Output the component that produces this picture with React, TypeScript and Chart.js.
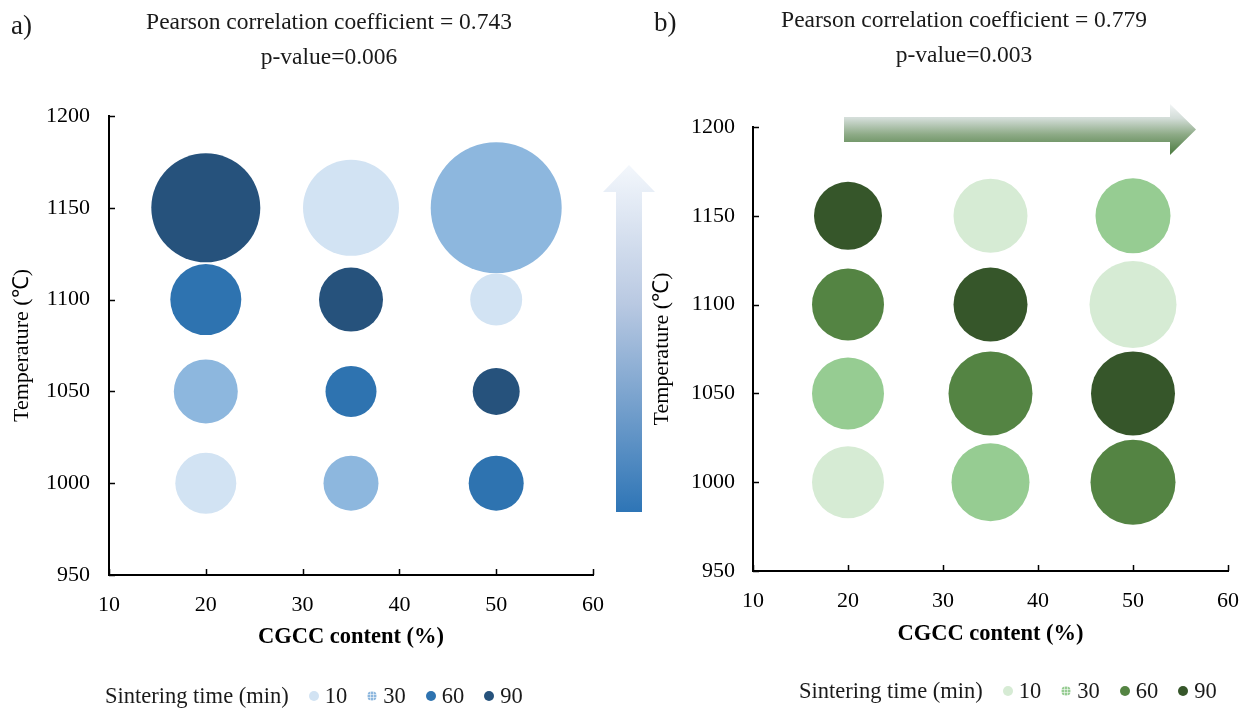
import React, { useEffect, useRef } from 'react';
import { Chart, registerables } from 'chart.js';

Chart.register(...registerables);

// ---- data ----
const cgccContent = [20, 35, 50, 20, 35, 50, 20, 35, 50, 20, 35, 50];
const temperature = [1150, 1150, 1150, 1100, 1100, 1100, 1050, 1050, 1050, 1000, 1000, 1000];
const sinteringTime = [90, 10, 30, 60, 90, 10, 30, 60, 90, 10, 30, 60];
const bubbleSizeA = [54.5, 48, 65.5, 35.5, 32, 26, 32, 25.5, 23.5, 30.5, 27.5, 27.5];
const bubbleSizeB = [34, 37, 37.5, 36, 37, 43.5, 36, 42, 42, 36, 39, 42.5];
const timeGroups = [10, 30, 60, 90];
const xTickValues = [10, 20, 30, 40, 50, 60];
const yTickValues = [950, 1000, 1050, 1100, 1150, 1200];
const pearsonA = ['Pearson correlation coefficient = 0.743', 'p-value=0.006'];
const pearsonB = ['Pearson correlation coefficient = 0.779', 'p-value=0.003'];

const bluePalette = ['#d2e3f3', '#8db7de', '#2e73b0', '#26527c'];
const greenPalette = ['#d6ebd4', '#96cc92', '#548443', '#36562a'];

const FONT = '"Liberation Serif", "Times New Roman", serif';
const SIZE_SCALE = 1;

const inwardTicks = {
  id: 'inwardTicks',
  afterDraw(chart: any) {
    const { ctx, chartArea, scales } = chart;
    ctx.save();
    ctx.strokeStyle = '#000';
    ctx.lineWidth = 1.5;
    xTickValues.forEach((v) => {
      const px = Math.round(scales.x.getPixelForValue(v)) + 0.5;
      ctx.beginPath();
      ctx.moveTo(px, chartArea.bottom);
      ctx.lineTo(px, chartArea.bottom - 6);
      ctx.stroke();
    });
    yTickValues.forEach((v) => {
      const py = Math.round(scales.y.getPixelForValue(v)) + 0.5;
      ctx.beginPath();
      ctx.moveTo(chartArea.left, py);
      ctx.lineTo(chartArea.left + 6, py);
      ctx.stroke();
    });
    ctx.restore();
  },
};

function buildConfig(
  sizes: number[],
  palette: string[],
  pad: { left: number; right: number; top: number; bottom: number },
  yWidth: number,
  yPad: number,
  xTitlePad: number
): any {
  const datasets = timeGroups.map((t, gi) => ({
    label: String(t),
    data: cgccContent
      .map((x, i) => ({ x, y: temperature[i], r: sizes[i] * SIZE_SCALE, t: sinteringTime[i] }))
      .filter((p) => p.t === t),
    backgroundColor: palette[gi],
    borderWidth: 0,
    clip: false,
  }));
  return {
    type: 'bubble',
    data: { datasets },
    plugins: [inwardTicks],
    options: {
      animation: false,
      responsive: false,
      events: [],
      layout: { padding: pad, autoPadding: false },
      plugins: { legend: { display: false }, tooltip: { enabled: false }, title: { display: false } },
      scales: {
        x: {
          type: 'linear',
          min: 10,
          max: 60,
          afterBuildTicks: (s: any) => {
            s.ticks = xTickValues.map((v) => ({ value: v }));
          },
          afterFit: (s: any) => {
            s.height = 80;
            s.paddingLeft = 0;
            s.paddingRight = 0;
          },
          grid: { display: false, drawTicks: false },
          border: { display: true, color: '#000', width: 2 },
          ticks: {
            color: '#000',
            font: { family: FONT, size: 22 },
            padding: 17,
            maxRotation: 0,
            callback: (v: any) => String(v),
          },
          title: {
            display: true,
            text: 'CGCC content (%)',
            color: '#000',
            font: { family: FONT, size: 22.5, weight: 'bold' },
            padding: { top: 0, bottom: xTitlePad },
          },
        },
        y: {
          type: 'linear',
          min: 950,
          max: 1200,
          afterBuildTicks: (s: any) => {
            s.ticks = yTickValues.map((v) => ({ value: v }));
          },
          afterFit: (s: any) => {
            s.width = yWidth;
            s.paddingTop = 0;
            s.paddingBottom = 0;
          },
          grid: { display: false, drawTicks: false },
          border: { display: true, color: '#000', width: 2 },
          ticks: {
            color: '#000',
            font: { family: FONT, size: 22 },
            padding: yPad,
            callback: (v: any) => String(v),
          },
          title: {
            display: true,
            text: 'Temperature (℃)',
            color: '#000',
            font: { family: FONT, size: 22 },
            padding: { top: 0, bottom: 0 },
          },
        },
      },
    },
  };
}

function Legend({ left, top, palette }: { left: number; top: number; palette: string[] }) {
  return (
    <div
      style={{
        position: 'absolute',
        left,
        top,
        display: 'flex',
        alignItems: 'center',
        fontSize: 22.5,
        whiteSpace: 'nowrap',
        color: '#1a1a1a',
        lineHeight: '25px',
      }}
    >
      <span>Sintering time (min)</span>
      {timeGroups.map((t, i) => (
        <span key={t} style={{ display: 'flex', alignItems: 'center', marginLeft: 20 }}>
          <span
            style={{
              width: 10,
              height: 10,
              borderRadius: '50%',
              marginRight: 6,
              background:
                i === 1
                  ? `repeating-linear-gradient(0deg, rgba(255,255,255,0.55) 0 1px, transparent 1px 3px), repeating-linear-gradient(90deg, rgba(255,255,255,0.55) 0 1px, transparent 1px 3px), ${palette[i]}`
                  : palette[i],
            }}
          />
          <span>{t}</span>
        </span>
      ))}
    </div>
  );
}

function TopText({ lines, cx, top }: { lines: string[]; cx: number; top: number }) {
  return (
    <div
      style={{
        position: 'absolute',
        left: cx - 300,
        top,
        width: 600,
        textAlign: 'center',
        fontSize: 23.5,
        lineHeight: '35px',
        color: '#1a1a1a',
        whiteSpace: 'nowrap',
      }}
    >
      {lines.map((l) => (
        <div key={l}>{l}</div>
      ))}
    </div>
  );
}

export default function App() {
  const refA = useRef<HTMLCanvasElement>(null);
  const refB = useRef<HTMLCanvasElement>(null);

  useEffect(() => {
    const a = new Chart(
      refA.current as HTMLCanvasElement,
      buildConfig(bubbleSizeA, bluePalette, { left: 9, right: 27, top: 116, bottom: 56 }, 100, 19, 4)
    );
    const b = new Chart(
      refB.current as HTMLCanvasElement,
      buildConfig(bubbleSizeB, greenPalette, { left: 29, right: 21, top: 127, bottom: 60 }, 104, 18, 3)
    );
    return () => {
      a.destroy();
      b.destroy();
    };
  }, []);

  return (
    <div
      style={{
        position: 'fixed',
        left: 0,
        top: 0,
        width: 1249,
        height: 711,
        background: '#fff',
        fontFamily: FONT,
        overflow: 'hidden',
      }}
    >
      <canvas ref={refA} width={620} height={711} style={{ position: 'absolute', left: 0, top: 0, width: 620, height: 711 }} />
      <canvas ref={refB} width={629} height={711} style={{ position: 'absolute', left: 620, top: 0, width: 629, height: 711 }} />

      <div style={{ position: 'absolute', left: 11, top: 9, fontSize: 27, lineHeight: '32px', color: '#1a1a1a' }}>a)</div>
      <div style={{ position: 'absolute', left: 654, top: 6, fontSize: 27, lineHeight: '32px', color: '#1a1a1a' }}>b)</div>

      <TopText lines={pearsonA} cx={329} top={4} />
      <TopText lines={pearsonB} cx={964} top={2} />

      {/* vertical blue arrow */}
      <div
        style={{
          position: 'absolute',
          left: 603,
          top: 165,
          width: 52,
          height: 347,
          background: 'linear-gradient(180deg, #f3f7fc 0%, #b9c9e2 40%, #2e75b6 100%)',
          clipPath: 'polygon(26px 0, 52px 27px, 39px 27px, 39px 347px, 13px 347px, 13px 27px, 0 27px)',
        }}
      />
      {/* horizontal green arrow */}
      <div
        style={{
          position: 'absolute',
          left: 844,
          top: 104,
          width: 352,
          height: 51,
          background: 'linear-gradient(180deg, #f2f5f6 0%, #d3ddd8 28%, #8daa86 60%, #4a7a3e 100%)',
          clipPath: 'polygon(0 13px, 326px 13px, 326px 0, 352px 25.5px, 326px 51px, 326px 38px, 0 38px)',
        }}
      />

      <Legend left={105} top={683} palette={bluePalette} />
      <Legend left={799} top={678} palette={greenPalette} />
    </div>
  );
}
